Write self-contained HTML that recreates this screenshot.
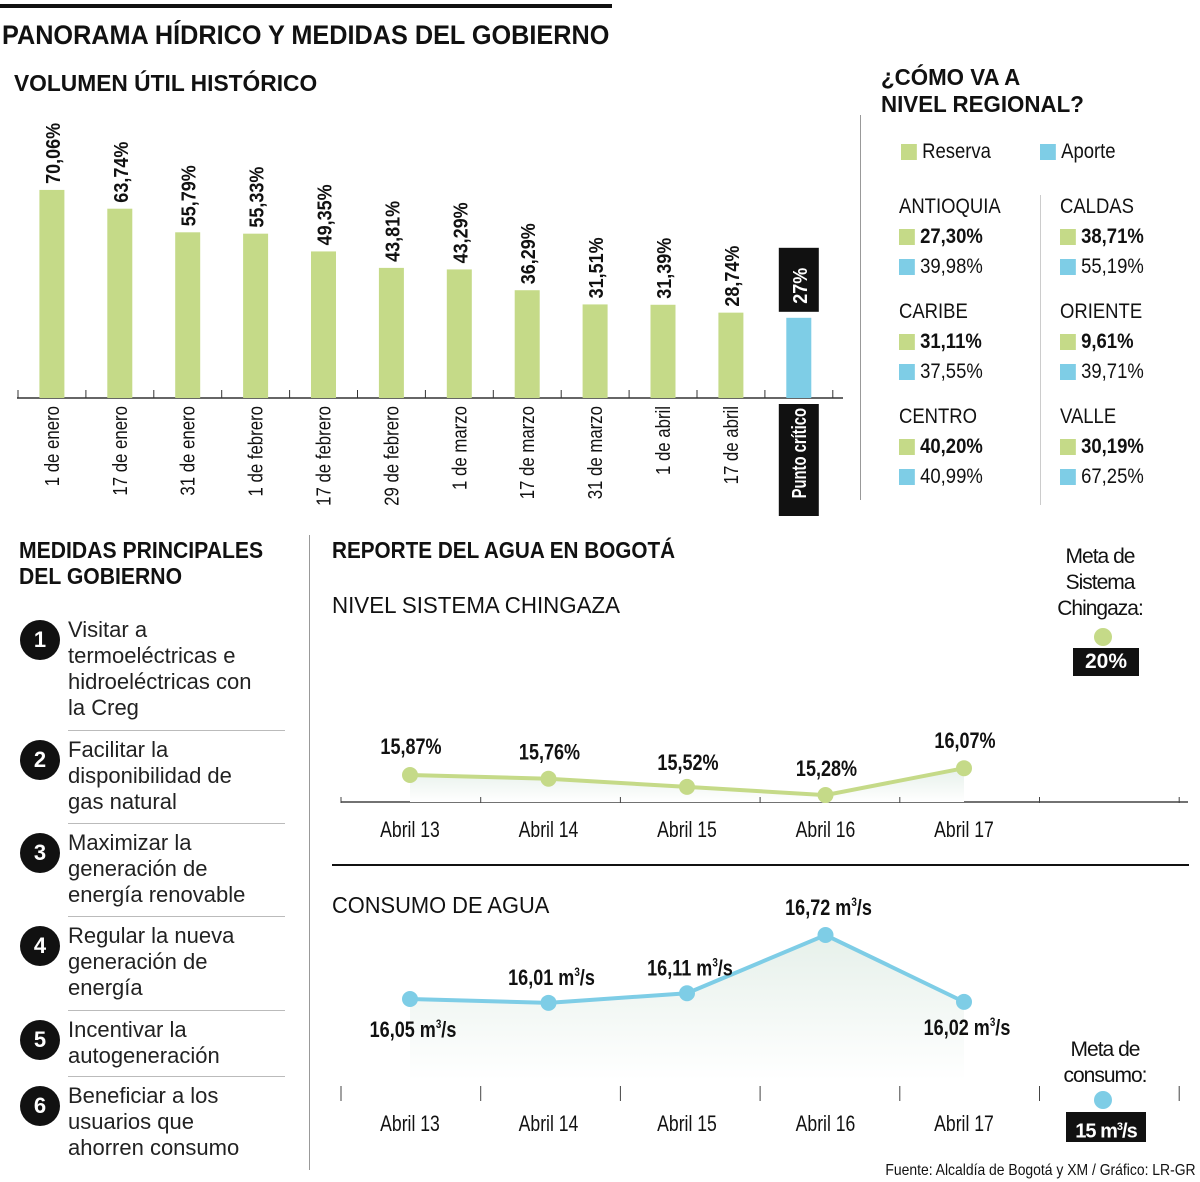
<!DOCTYPE html>
<html><head><meta charset="utf-8">
<style>
body{margin:0;width:1200px;height:1182px;background:#fff;font-family:"Liberation Sans",sans-serif;color:#111;position:relative;overflow:hidden}
.a{position:absolute;white-space:nowrap}
.h{font-family:"Liberation Sans",sans-serif;font-weight:bold}
.sx{transform:scaleX(0.86);transform-origin:left top}
.sw{display:inline-block;width:18px;height:16px;vertical-align:-2px;margin-right:6px}
.g{background:#c5da88}.b{background:#7ecde6}
.reg{font-size:21px;line-height:30px;transform:scaleX(0.88);transform-origin:left top}
.num{position:absolute;left:20px;width:40px;height:40px;border-radius:50%;background:#111;color:#fff;font-family:"Liberation Sans",sans-serif;font-weight:bold;font-size:22px;text-align:center;line-height:40px}
.mt{position:absolute;left:68px;font-family:"Liberation Sans",sans-serif;font-size:22px;line-height:26px;color:#222;white-space:normal}
.sep{position:absolute;left:68px;width:217px;border-top:1px solid #bbb}
</style></head><body>
<div class="a" style="left:0;top:4px;width:612px;height:4px;background:#111"></div>
<div class="a h sx" style="left:2px;top:20px;font-size:27px;transform:scaleX(0.935)">PANORAMA HÍDRICO Y MEDIDAS DEL GOBIERNO</div>
<div class="a h sx" style="left:14px;top:70px;font-size:23px;transform:scaleX(0.99)">VOLUMEN ÚTIL HISTÓRICO</div>
<svg class="a" id="bars" style="left:0;top:100px" width="860" height="420"></svg>

<div class="a h sx" style="left:881px;top:64px;font-size:23px;line-height:27px;transform:scaleX(0.97)">¿CÓMO VA A<br>NIVEL REGIONAL?</div>
<div class="a" style="left:860px;top:115px;width:1px;height:385px;background:#999"></div>
<div class="a" style="left:1040px;top:195px;width:1px;height:310px;background:#ccc"></div>
<div class="a reg" style="left:901px;top:137px"><span class="sw g"></span>Reserva</div>
<div class="a reg" style="left:1040px;top:137px"><span class="sw b"></span>Aporte</div>
<div id="regions"></div>

<div class="a" style="left:309px;top:535px;width:1px;height:635px;background:#999"></div>
<div class="a h sx" style="left:19px;top:537px;font-size:23px;line-height:26px;transform:scaleX(0.92)">MEDIDAS PRINCIPALES<br>DEL GOBIERNO</div>
<div id="measures"></div>

<div class="a h sx" style="left:332px;top:537px;font-size:23px;transform:scaleX(0.9)">REPORTE DEL AGUA EN BOGOTÁ</div>
<div class="a sx" style="left:332px;top:592px;font-size:23px;transform:scaleX(0.97)">NIVEL SISTEMA CHINGAZA</div>
<div class="a" style="left:1050px;top:544px;width:100px;text-align:center;font-size:21px;line-height:26px;white-space:normal;letter-spacing:-1px">Meta de Sistema Chingaza:</div>
<div class="a" style="left:1094px;top:628px;width:18px;height:18px;border-radius:50%;background:#c5da88"></div>
<div class="a" style="left:1073px;top:648px;width:66px;height:28px;background:#111;color:#fff;font-weight:bold;font-size:21px;text-align:center;line-height:28px">20%</div>
<div class="a" style="left:332px;top:864px;width:857px;height:2px;background:#111"></div>
<div class="a sx" style="left:332px;top:892px;font-size:23px;transform:scaleX(0.95)">CONSUMO DE AGUA</div>
<div class="a" style="left:1055px;top:1037px;width:100px;text-align:center;font-size:21px;line-height:26px;white-space:normal;letter-spacing:-1px">Meta de consumo:</div>
<div class="a" style="left:1094px;top:1091px;width:18px;height:18px;border-radius:50%;background:#7ecde6"></div>
<div class="a" style="left:1066px;top:1112px;width:80px;height:30px;background:#111;color:#fff;font-weight:bold;font-size:20px;text-align:center;line-height:30px;letter-spacing:-1px">15 m<sup style="font-size:11px">3</sup>/s</div>
<svg class="a" id="lines" style="left:0;top:0" width="1200" height="1182"></svg>
<div class="a" style="right:4px;top:1162px;font-size:16px;transform:scaleX(0.87);transform-origin:right top">Fuente: Alcaldía de Bogotá y XM / Gráfico: LR-GR</div>

<script>
const barCats=["1 de enero","17 de enero","31 de enero","1 de febrero","17 de febrero","29 de febrero","1 de marzo","17 de marzo","31 de marzo","1 de abril","17 de abril","Punto crítico"];
const barVals=[70.06,63.74,55.79,55.33,49.35,43.81,43.29,36.29,31.51,31.39,28.74,27];
const barLabels=["70,06%","63,74%","55,79%","55,33%","49,35%","43,81%","43,29%","36,29%","31,51%","31,39%","28,74%","27%"];
const days=["Abril 13","Abril 14","Abril 15","Abril 16","Abril 17"];
const chingaza=[15.87,15.76,15.52,15.28,16.07];
const chingazaLabels=["15,87%","15,76%","15,52%","15,28%","16,07%"];
const consumo=[16.05,16.01,16.11,16.72,16.02];
const consumoLabels=["16,05","16,01","16,11","16,72","16,02"];
const regNames=["ANTIOQUIA","CALDAS","CARIBE","ORIENTE","CENTRO","VALLE"];
const regReserva=["27,30%","38,71%","31,11%","9,61%","40,20%","30,19%"];
const regAporte=["39,98%","55,19%","37,55%","39,71%","40,99%","67,25%"];
const measures=["Visitar a termoeléctricas e hidroeléctricas con la Creg","Facilitar la disponibilidad de gas natural","Maximizar la generación de energía renovable","Regular la nueva generación de energía","Incentivar la autogeneración","Beneficiar a los usuarios que ahorren consumo"];

const NS="http://www.w3.org/2000/svg";
function mk(p,t,a){const e=document.createElementNS(NS,t);for(const k in a)e.setAttribute(k,a[k]);p.appendChild(e);return e;}
// bars
const bs=document.getElementById('bars');
const base=298, bx=i=>18+67.9*i+33.9, by=v=>base-v*2.97;
const ax=mk(bs,'line',{x1:17,x2:843,y1:base,y2:base,stroke:'#333','stroke-width':1.5});

for(let i=0;i<=12;i++){const t=mk(bs,'line',{x1:18+67.9*i,x2:18+67.9*i,y1:base-8,y2:base,stroke:'#333'});}
barVals.forEach((v,i)=>{
 const last=i===barVals.length-1;
 const r=mk(bs,'rect',{x:bx(i)-12.5,y:by(v),width:25,height:base-by(v),fill:last?'#7ecde6':'#c5da88'});
 
 if(last){const bg=mk(bs,'rect',{x:bx(i)-20,y:by(v)-70,width:40,height:64,fill:'#111'});
  const bg2=mk(bs,'rect',{x:bx(i)-20,y:base+6,width:40,height:112,fill:'#111'});}
 const tx=mk(bs,'text',{x:0,y:0,transform:`translate(${bx(i)+8},${by(v)-(last?14:6)}) rotate(-90) scale(0.9,1)`,'font-size':20,'font-weight':'bold',fill:last?'#fff':'#111'});
 tx.textContent=barLabels[i];
 const lb=mk(bs,'text',{x:0,y:0,transform:`translate(${bx(i)+7},${base+(last?10:8)}) rotate(-90) scale(${last?0.74:0.84},1)`,'text-anchor':'end','font-size':20,fill:last?'#fff':'#111','font-weight':last?'bold':'normal'});
 lb.textContent=barCats[i];
});
// regions
const rg=document.getElementById('regions');
regNames.forEach((n,i)=>{const x=i%2?1060:899,y=192+Math.floor(i/2)*105;
 const d=document.createElement('div');d.className='a reg';d.style.left=x+'px';d.style.top=y+'px';
 
 d.innerHTML=`${n}<br><span class="sw g"></span><b>${regReserva[i]}</b><br><span class="sw b"></span>${regAporte[i]}`;rg.appendChild(d);});
// measures
const ms=document.getElementById('measures');const tops=[618,738,831,924,1018,1084];
measures.forEach((m,i)=>{const n=document.createElement('div');n.className='num';n.style.top=(tops[i]+2)+'px';n.textContent=i+1;
 ms.appendChild(n);
 const t=document.createElement('div');t.className='mt';t.style.top=(tops[i]-1)+'px';t.style.width='196px';t.textContent=m;
 ms.appendChild(t);
 if(i<5){const s=document.createElement('div');s.className='sep';s.style.top=(tops[i+1]-8)+'px';ms.appendChild(s);}});
// lines
const ls=document.getElementById('lines');
const lx=i=>410+138.5*i;
const y1=v=>775-(v-15.87)*34, y2=v=>999-(v-16.05)*95.5;
const defs=mk(ls,'defs',{});
const gr=mk(defs,'linearGradient',{id:'fg',x1:0,y1:0,x2:0,y2:1});mk(gr,'stop',{offset:0,'stop-color':'#e6f0ea'});mk(gr,'stop',{offset:1,'stop-color':'#fff'});
function chart(vals,yf,baseY,tickY0,tickY1,labY,color,lbls,lblOff,name,unit){
 let p=vals.map((v,i)=>`${lx(i)},${yf(v)}`).join(' ');
 const ar=mk(ls,'polygon',{points:`${lx(0)},${baseY} ${p} ${lx(vals.length-1)},${baseY}`,fill:'url(#fg)'});
 for(let k=0;k<7;k++){const x=341+139.7*k;const t=mk(ls,'line',{x1:x,x2:x,y1:tickY0,y2:tickY1,stroke:'#444'});}
 const pl=mk(ls,'polyline',{points:p,fill:'none',stroke:color,'stroke-width':4});
 vals.forEach((v,i)=>{const c=mk(ls,'circle',{cx:lx(i),cy:yf(v),r:8,fill:color});
  const t=mk(ls,'text',{x:0,y:0,transform:`translate(${lx(i)+(unit?3:1)},${yf(v)+lblOff[i]}) scale(0.82,1)`,'text-anchor':'middle','font-size':22,'font-weight':'bold',fill:'#111'});
  t.innerHTML=unit?`${lbls[i]} m<tspan font-size="12" dy="-9">3</tspan><tspan dy="9">/s</tspan>`:lbls[i];
  
  const d=mk(ls,'text',{x:0,y:0,transform:`translate(${lx(i)},${labY}) scale(0.8,1)`,'text-anchor':'middle','font-size':22,fill:'#111'});d.textContent=days[i];});
}
const a1=mk(ls,'line',{x1:341,x2:1188,y1:802,y2:802,stroke:'#444','stroke-width':1.5});
chart(chingaza,y1,802,797,803,837,'#c5da88',chingazaLabels,[-21,-19,-17,-19,-20],'chingaza',false);
chart(consumo,y2,1080,1086,1101,1131,'#7ecde6',consumoLabels,[38,-18,-18,-20,33],'consumo',true);
</script>
</body></html>
